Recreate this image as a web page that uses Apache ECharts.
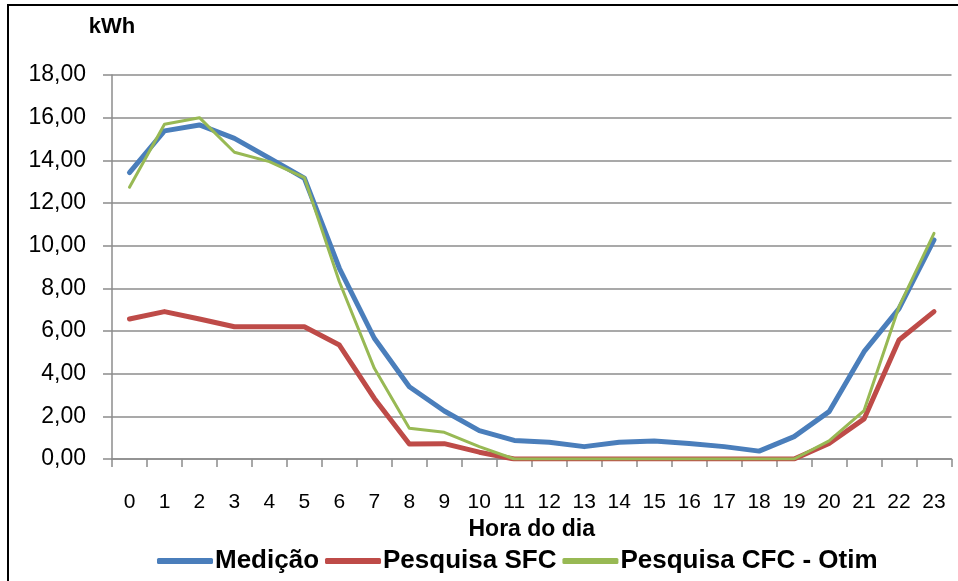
<!DOCTYPE html>
<html>
<head>
<meta charset="utf-8">
<script src="https://cdn.jsdelivr.net/npm/echarts@6/dist/echarts.min.js"></script>
<style>html,body{margin:0;padding:0;background:#fff}#c{width:958px;height:581px}</style>
</head>
<body>
<div id="c"></div>
<script>
const hours = ['0','1','2','3','4','5','6','7','8','9','10','11','12','13','14','15','16','17','18','19','20','21','22','23'];
const medicao = [13.42, 15.38, 15.66, 15.03, 14.10, 13.16, 8.94, 5.66, 3.39, 2.25, 1.33, 0.87, 0.79, 0.58, 0.79, 0.84, 0.73, 0.58, 0.37, 1.05, 2.22, 5.03, 7.05, 10.27];
const pesquisaSFC = [6.56, 6.91, 6.56, 6.20, 6.20, 6.20, 5.34, 2.84, 0.70, 0.72, 0.32, 0, 0, 0, 0, 0, 0, 0, 0, 0, 0.73, 1.88, 5.58, 6.91];
const pesquisaCFC = [12.74, 15.69, 16.00, 14.38, 13.94, 13.19, 8.31, 4.25, 1.44, 1.25, 0.58, 0, 0, 0, 0, 0, 0, 0, 0, 0, 0.85, 2.27, 7.14, 10.58];
const seriesNames = ['Medição', 'Pesquisa SFC', 'Pesquisa CFC - Otim'];
const yTicks = {min: 0, max: 18, interval: 2};

const chart = echarts.init(document.getElementById('c'), null, {renderer: 'canvas'});
const gridColor = '#8c8c8c';
const font = 'Liberation Sans, Arial, sans-serif';
chart.setOption({
  animation: false,
  textStyle: {fontFamily: font},
  graphic: [{
    type: 'rect', shape: {x: 8, y: 5, width: 1200, height: 1000},
    style: {fill: 'none', stroke: '#000', lineWidth: 2}, silent: true
  }],
  grid: {left: 112, right: 6.5, top: 75, bottom: 122, containLabel: false},
  legend: {
    data: seriesNames, left: 152, top: 543, itemGap: 6, itemWidth: 56, itemHeight: 6,
    icon: 'roundRect',
    textStyle: {fontFamily: font, fontSize: 26, fontWeight: 'bold', color: '#000', padding: [0,0,0,-3]}
  },
  xAxis: {
    type: 'category', data: hours, boundaryGap: true,
    name: 'Hora do dia', nameLocation: 'middle', nameGap: 50,
    nameTextStyle: {fontFamily: font, fontSize: 23, fontWeight: 'bold', color: '#000', verticalAlign: 'top'},
    axisLine: {lineStyle: {color: gridColor, width: 1.5}},
    axisTick: {show: true, length: 8, lineStyle: {color: gridColor, width: 1.5}},
    axisLabel: {fontFamily: font, fontSize: 21, color: '#000', margin: 33, interval: 0},
    splitLine: {show: false}
  },
  yAxis: {
    type: 'value', min: yTicks.min, max: yTicks.max, interval: yTicks.interval,
    name: 'kWh', nameLocation: 'end', nameGap: 37,
    nameTextStyle: {fontFamily: font, fontSize: 22, fontWeight: 'bold', color: '#000', align: 'center'},
    axisLine: {show: true, lineStyle: {color: gridColor, width: 1.5}},
    axisTick: {show: true, length: 9, lineStyle: {color: gridColor, width: 1.5}},
    axisLabel: {fontFamily: font, fontSize: 23, color: '#000', margin: 26,
      formatter: v => v.toFixed(2).replace('.', ',')},
    splitLine: {show: true, lineStyle: {color: gridColor, width: 1.5}}
  },
  series: [
    {name: seriesNames[0], type: 'line', data: medicao, symbol: 'none',
      lineStyle: {color: '#4a7ebb', width: 5, cap: 'round', join: 'round'}, itemStyle: {color: '#4a7ebb'}, z: 2},
    {name: seriesNames[1], type: 'line', data: pesquisaSFC, symbol: 'none',
      lineStyle: {color: '#be4b48', width: 5, cap: 'round', join: 'round'}, itemStyle: {color: '#be4b48'}, z: 3},
    {name: seriesNames[2], type: 'line', data: pesquisaCFC, symbol: 'none',
      lineStyle: {color: '#98b954', width: 3, cap: 'round', join: 'round'}, itemStyle: {color: '#98b954'}, z: 4}
  ]
});
</script>
</body>
</html>
